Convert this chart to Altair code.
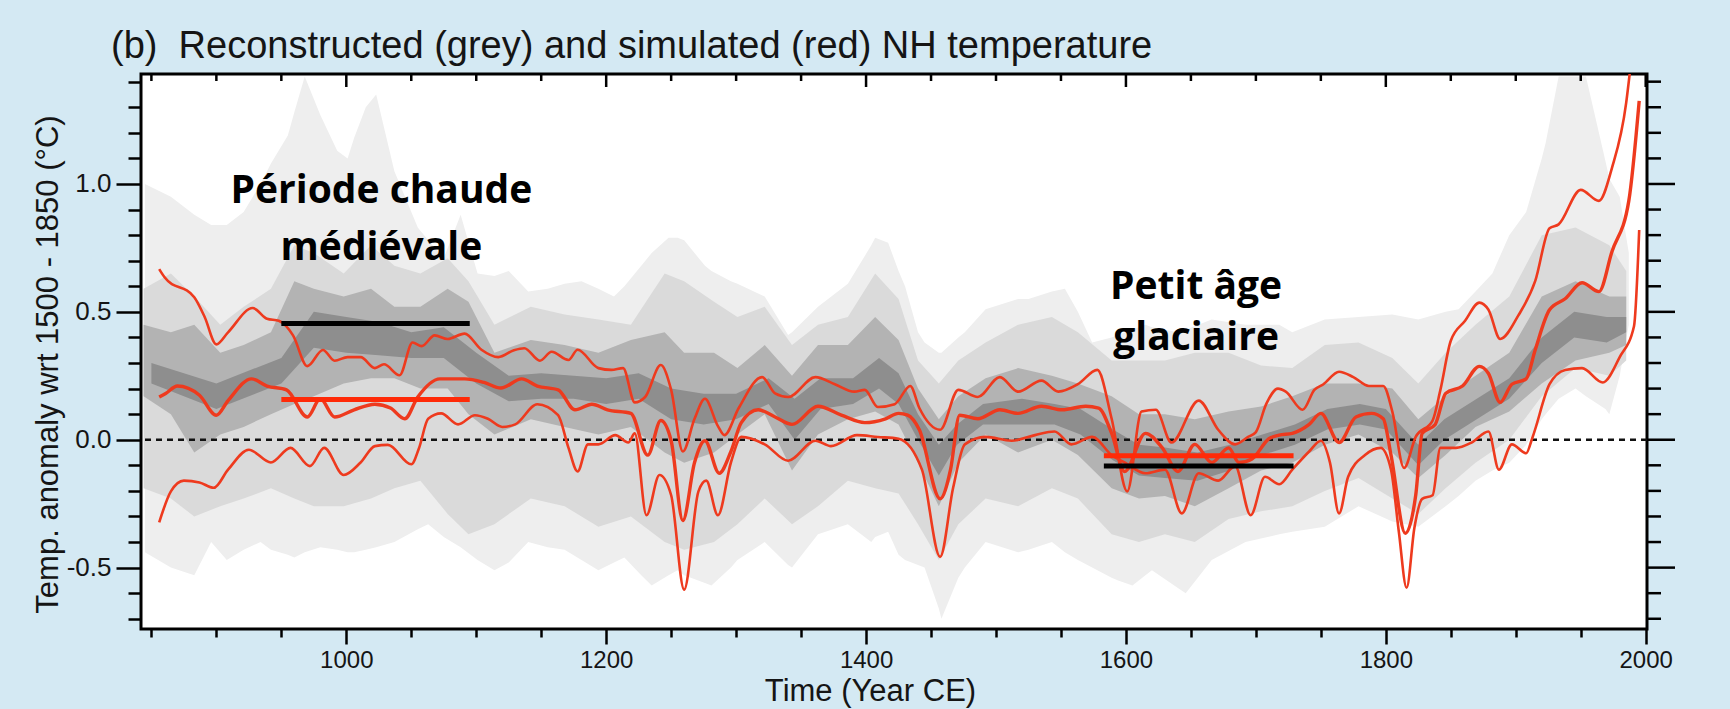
import altair as alt
import pandas as pd

# ---------------- data ----------------
# reconstruction envelope: light / mid / dark / core grey bands
outer_year = [845, 865, 883, 896, 908, 921, 934, 942, 955, 960, 968, 980, 993, 1001, 1006, 1015, 1023, 1037, 1055, 1063,
              1075, 1088, 1101, 1114, 1125, 1140, 1155, 1168, 1181, 1194, 1206, 1214, 1227, 1235, 1248, 1255, 1260, 1276,
              1281, 1296, 1301, 1322, 1340, 1343, 1363, 1386, 1404, 1407, 1417, 1425, 1430, 1440, 1445, 1456, 1458, 1471,
              1476, 1492, 1517, 1525, 1543, 1553, 1563, 1574, 1589, 1594, 1605, 1615, 1620, 1640, 1646, 1666, 1692, 1718,
              1728, 1753, 1779, 1805, 1825, 1846, 1856, 1869, 1882, 1895, 1908, 1920, 1923, 1933, 1946, 1954, 1969, 1972,
              1980, 1987]
outer_hi = [1.0, 0.95, 0.88, 0.84, 0.84, 0.89, 1.0, 1.08, 1.19, 1.28, 1.42, 1.27, 1.13, 1.10, 1.18, 1.30, 1.35, 1.05, 0.83, 0.78,
            0.71, 0.88, 0.65, 0.64, 0.66, 0.58, 0.59, 0.61, 0.62, 0.59, 0.56, 0.60, 0.68, 0.73, 0.79, 0.79, 0.78, 0.68,
            0.66, 0.62, 0.61, 0.56, 0.41, 0.42, 0.52, 0.61, 0.76, 0.79, 0.77, 0.66, 0.60, 0.42, 0.38, 0.34, 0.34, 0.40,
            0.42, 0.51, 0.55, 0.55, 0.58, 0.59, 0.50, 0.38, 0.40, 0.41, 0.43, 0.45, 0.44, 0.42, 0.43, 0.47, 0.45, 0.45,
            0.42, 0.47, 0.48, 0.49, 0.47, 0.50, 0.51, 0.58, 0.65, 0.80, 0.89, 1.10, 1.16, 1.42, 1.42, 1.42, 1.09, 1.02,
            0.95, 0.73]
outer_lo = [-0.44, -0.50, -0.53, -0.40, -0.47, -0.43, -0.40, -0.43, -0.45, -0.46, -0.44, -0.42, -0.43, -0.44, -0.44, -0.43, -0.42, -0.40, -0.35, -0.33,
            -0.38, -0.42, -0.47, -0.51, -0.48, -0.40, -0.42, -0.43, -0.47, -0.51, -0.48, -0.46, -0.53, -0.57, -0.53, -0.51, -0.53, -0.56,
            -0.57, -0.50, -0.47, -0.40, -0.49, -0.50, -0.37, -0.33, -0.40, -0.38, -0.36, -0.45, -0.47, -0.49, -0.50, -0.66, -0.70, -0.54,
            -0.50, -0.40, -0.44, -0.43, -0.40, -0.44, -0.47, -0.50, -0.54, -0.55, -0.57, -0.53, -0.51, -0.58, -0.60, -0.47, -0.40, -0.37,
            -0.36, -0.34, -0.26, -0.32, -0.34, -0.26, -0.22, -0.16, -0.12, -0.09, -0.02, 0.08, 0.10, 0.16, 0.20, 0.17, 0.12, 0.10,
            0.25, 0.45]

mid_year = [844, 865, 883, 903, 921, 942, 960, 975, 998, 1019, 1037, 1057, 1078, 1094, 1114, 1142, 1168, 1194, 1219, 1245,
            1260, 1283, 1301, 1322, 1343, 1363, 1386, 1407, 1425, 1440, 1456, 1471, 1492, 1517, 1543, 1563, 1589, 1610,
            1630, 1653, 1679, 1704, 1728, 1753, 1779, 1805, 1825, 1846, 1869, 1895, 1920, 1946, 1972, 1985]
mid_hi = [0.59, 0.65, 0.56, 0.45, 0.52, 0.59, 0.76, 0.73, 0.65, 0.76, 0.68, 0.65, 0.71, 0.62, 0.45, 0.52, 0.49, 0.47, 0.45, 0.65,
          0.62, 0.54, 0.48, 0.52, 0.37, 0.45, 0.48, 0.65, 0.55, 0.31, 0.22, 0.31, 0.38, 0.45, 0.48, 0.42, 0.31, 0.31,
          0.31, 0.34, 0.34, 0.29, 0.28, 0.37, 0.38, 0.32, 0.22, 0.34, 0.45, 0.56, 0.80, 0.83, 0.76, 0.66]
mid_lo = [-0.19, -0.23, -0.30, -0.26, -0.23, -0.19, -0.23, -0.26, -0.26, -0.23, -0.19, -0.16, -0.29, -0.37, -0.33, -0.23, -0.26, -0.34, -0.30, -0.40,
          -0.43, -0.40, -0.33, -0.23, -0.33, -0.26, -0.16, -0.19, -0.21, -0.33, -0.47, -0.33, -0.23, -0.26, -0.19, -0.23, -0.37, -0.40,
          -0.37, -0.40, -0.31, -0.28, -0.26, -0.20, -0.15, -0.23, -0.29, -0.19, -0.09, 0.0, 0.17, 0.28, 0.25, 0.31]

dark_year = mid_year
dark_hi = [0.45, 0.42, 0.45, 0.34, 0.37, 0.42, 0.62, 0.59, 0.56, 0.59, 0.52, 0.52, 0.59, 0.54, 0.34, 0.39, 0.37, 0.34, 0.39, 0.42,
           0.34, 0.34, 0.28, 0.37, 0.25, 0.37, 0.37, 0.48, 0.39, 0.20, 0.08, 0.17, 0.24, 0.28, 0.25, 0.22, 0.17, 0.10,
           0.10, 0.08, 0.11, 0.13, 0.17, 0.22, 0.22, 0.20, 0.08, 0.17, 0.25, 0.34, 0.56, 0.62, 0.56, 0.56]
dark_lo = [0.17, 0.10, -0.05, 0.02, 0.05, 0.10, 0.14, 0.17, 0.22, 0.24, 0.24, 0.20, 0.20, 0.10, 0.02, 0.08, 0.05, 0.02, 0.05, -0.05,
           -0.09, -0.05, 0.02, 0.10, -0.12, 0.02, 0.08, 0.11, 0.06, -0.09, -0.26, -0.09, 0.02, -0.05, 0.0, -0.06, -0.19, -0.23,
           -0.22, -0.26, -0.19, -0.12, -0.09, -0.02, 0.02, -0.05, -0.15, -0.06, 0.05, 0.11, 0.22, 0.31, 0.34, 0.37]

core_year = [850, 900, 950, 975, 1000, 1025, 1050, 1075, 1100, 1125, 1150, 1175, 1200, 1225, 1250, 1275, 1300, 1325,
             1345, 1365, 1390, 1410, 1425, 1440, 1456, 1470, 1490, 1520, 1545, 1565, 1590, 1610, 1630, 1655, 1680,
             1705, 1730, 1755, 1780, 1800, 1825, 1845, 1870, 1895, 1920, 1945, 1970, 1985]
core_hi = [0.30, 0.22, 0.32, 0.50, 0.48, 0.46, 0.42, 0.44, 0.34, 0.25, 0.26, 0.25, 0.24, 0.26, 0.20, 0.18, 0.18, 0.24,
           0.16, 0.24, 0.24, 0.32, 0.26, 0.10, -0.02, 0.06, 0.14, 0.16, 0.14, 0.12, 0.04, -0.02, -0.03, -0.05, -0.02,
           0.02, 0.06, 0.12, 0.14, 0.12, -0.02, 0.08, 0.16, 0.24, 0.40, 0.50, 0.48, 0.48]
core_lo = [0.22, 0.12, 0.22, 0.36, 0.34, 0.33, 0.32, 0.32, 0.22, 0.15, 0.16, 0.16, 0.14, 0.16, 0.08, 0.06, 0.08, 0.14,
           0.0, 0.12, 0.14, 0.20, 0.14, 0.0, -0.14, -0.02, 0.06, 0.06, 0.06, 0.02, -0.08, -0.14, -0.15, -0.16, -0.12,
           -0.06, -0.02, 0.04, 0.06, 0.04, -0.10, 0.0, 0.08, 0.16, 0.30, 0.40, 0.38, 0.42]

# simulations: upper, mean and lower red curves
up_year = [856, 860, 883, 891, 900, 909, 928, 939, 948, 959, 970, 982, 991, 1001, 1011, 1022, 1029, 1041, 1051, 1058,
           1068, 1078, 1091, 1104, 1117, 1129, 1137, 1149, 1158, 1171, 1178, 1194, 1204, 1213, 1222, 1230, 1242, 1250,
           1259, 1268, 1276, 1286, 1291, 1302, 1320, 1330, 1340, 1361, 1376, 1391, 1399, 1409, 1422, 1434, 1441, 1457,
           1471, 1486, 1503, 1517, 1535, 1548, 1563, 1578, 1589, 1601, 1612, 1623, 1635, 1656, 1671, 1684, 1694, 1700,
           1708, 1717, 1723, 1736, 1745, 1752, 1764, 1775, 1787, 1798, 1805, 1814, 1823, 1836, 1842, 1850, 1861, 1872,
           1879, 1888, 1902, 1915, 1926, 1933, 1950, 1964, 1974, 1985, 1988]
up_val = [0.667, 0.636, 0.557, 0.48, 0.373, 0.42, 0.515, 0.473, 0.465, 0.408, 0.288, 0.351, 0.309, 0.323, 0.323, 0.28, 0.295, 0.252, 0.38, 0.366,
          0.408, 0.394, 0.415, 0.352, 0.323, 0.35, 0.358, 0.309, 0.344, 0.312, 0.352, 0.28, 0.273, 0.28, 0.146, 0.167, 0.292, 0.195,
          -0.046, 0.082, 0.16, 0.053, 0.018, 0.124, 0.245, 0.181, 0.167, 0.245, 0.217, 0.188, 0.195, 0.128, 0.139, 0.21, 0.124, 0.039,
          0.195, 0.167, 0.245, 0.188, 0.231, 0.188, 0.217, 0.273, 0.082, -0.202, 0.11, 0.117, -0.011, 0.153, 0.039, -0.018, 0.011, 0.03,
          0.14, 0.2, 0.188, 0.117, 0.195, 0.217, 0.266, 0.245, 0.21, 0.21, 0.11, -0.11, 0.011, 0.075, 0.195, 0.387, 0.465, 0.536,
          0.508, 0.394, 0.486, 0.621, 0.827, 0.842, 0.977, 0.934, 1.062, 1.318, 1.445]

mean_year = [856, 861, 870, 887, 900, 909, 927, 939, 954, 970, 980, 991, 1006, 1022, 1034, 1045, 1055, 1072, 1091, 1106,
             1119, 1135, 1147, 1163, 1176, 1189, 1201, 1219, 1232, 1242, 1250, 1259, 1268, 1276, 1287, 1296, 1304, 1317,
             1330, 1343, 1363, 1381, 1399, 1415, 1425, 1432, 1441, 1457, 1465, 1472, 1486, 1503, 1517, 1535, 1551, 1569,
             1579, 1589, 1599, 1615, 1628, 1640, 1653, 1666, 1679, 1687, 1697, 1710, 1718, 1728, 1741, 1750, 1764, 1777,
             1789, 1798, 1804, 1815, 1823, 1828, 1838, 1846, 1859, 1872, 1879, 1888, 1897, 1908, 1915, 1926, 1938, 1951,
             1964, 1974, 1987, 1995]
mean_val = [0.167, 0.181, 0.21, 0.174, 0.096, 0.153, 0.238, 0.21, 0.195, 0.089, 0.16, 0.089, 0.117, 0.139, 0.124, 0.082, 0.167, 0.238, 0.238, 0.224,
            0.202, 0.238, 0.21, 0.195, 0.117, 0.139, 0.117, 0.103, -0.06, 0.075, -0.004, -0.316, -0.089, -0.004, -0.131, -0.046, 0.067, 0.117,
            0.089, 0.06, 0.131, 0.096, 0.067, 0.082, 0.103, 0.096, 0.039, -0.231, -0.117, 0.096, 0.082, 0.117, 0.103, 0.131, 0.117, 0.131,
            0.124, 0.025, -0.124, 0.025, -0.032, -0.124, -0.018, -0.089, -0.032, -0.089, -0.075, 0.004, 0.018, 0.025, 0.06, 0.103, -0.011, 0.089,
            0.103, 0.082, -0.06, -0.366, -0.217, 0.025, 0.06, 0.181, 0.21, 0.287, 0.259, 0.146, 0.217, 0.238, 0.352, 0.508, 0.551, 0.614,
            0.579, 0.735, 0.934, 1.325]

low_year = [856, 865, 875, 887, 898, 909, 925, 942, 957, 972, 983, 998, 1011, 1022, 1032, 1050, 1056, 1063, 1073, 1086,
            1099, 1109, 1120, 1130, 1147, 1163, 1171, 1178, 1186, 1194, 1207, 1217, 1222, 1231, 1241, 1250, 1260, 1271,
            1277, 1286, 1296, 1304, 1322, 1340, 1361, 1373, 1393, 1409, 1425, 1443, 1457, 1467, 1476, 1492, 1512, 1530,
            1545, 1558, 1574, 1589, 1599, 1615, 1630, 1643, 1656, 1671, 1684, 1696, 1707, 1718, 1728, 1741, 1750, 1757,
            1764, 1771, 1784, 1796, 1804, 1810, 1816, 1822, 1828, 1836, 1842, 1854, 1866, 1879, 1887, 1897, 1908, 1913,
            1926, 1938, 1951, 1967, 1980, 1991, 1995]
low_val = [-0.323, -0.202, -0.16, -0.167, -0.188, -0.117, -0.039, -0.089, -0.032, -0.103, -0.032, -0.138, -0.089, -0.025, -0.02, -0.096, -0.032, 0.082, 0.103, 0.06,
           0.096, 0.082, 0.05, 0.06, 0.139, 0.096, -0.032, -0.124, -0.018, -0.018, 0.018, -0.011, 0.025, -0.295, -0.138, -0.217, -0.586, -0.202,
           -0.16, -0.295, -0.089, 0.011, -0.018, -0.082, -0.004, -0.025, 0.018, 0.011, 0.004, -0.117, -0.458, -0.188, -0.018, 0.011, -0.004, 0.018,
           0.032, -0.018, 0.011, -0.06, -0.089, -0.131, -0.117, -0.288, -0.131, -0.16, -0.103, -0.295, -0.145, -0.174, -0.117, -0.046, -0.004, -0.089,
           -0.288, -0.145, -0.06, -0.032, -0.117, -0.359, -0.579, -0.344, -0.231, -0.217, -0.032, -0.032, -0.011, 0.032, -0.117, -0.018, -0.053, 0.011,
           0.217, 0.273, 0.28, 0.224, 0.323, 0.444, 0.82]

# axis ticks / labels
x_ticks = list(range(850, 2001, 50))
y_ticks = [-0.7, -0.6, -0.5, -0.4, -0.3, -0.2, -0.1, 0.0, 0.1, 0.2, 0.3, 0.4, 0.5, 0.6, 0.7, 0.8, 0.9, 1.0, 1.1, 1.2, 1.3, 1.4]
x_major = [1000, 1200, 1400, 1600, 1800, 2000]
y_major = [-0.5, 0.0, 0.5, 1.0]

# period means (annotation bars)
seg_x1 = [950, 950, 1583, 1583]
seg_x2 = [1095, 1095, 1729, 1729]
seg_y = [0.454, 0.157, -0.063, -0.103]
seg_kind = ["recon", "sim", "sim", "recon"]

# annotation labels
ann_text = ["Période chaude", "médiévale", "Petit âge", "glaciaire"]
ann_x = [1027, 1027, 1654, 1654]
ann_y = [0.925, 0.703, 0.55, 0.351]

# ---------------- chart ----------------
W, H = 1506, 555
xscale = alt.Scale(domain=[842, 2001], nice=False, zero=False)
yscale = alt.Scale(domain=[-0.74, 1.43], nice=False, zero=False)

xaxis = alt.Axis(values=x_ticks, format="d", title="Time (Year CE)",
                 labelExpr="datum.value % 200 == 0 ? datum.label : ''",
                 tickSize={"condition": {"test": "datum.value % 200 == 0", "value": 15}, "value": 8},
                 labelPadding=4, labelFontSize=24, grid=False, domain=False,
                 titleX=729, titleY=62, titleBaseline="middle", titleAnchor="middle")
MAJ = "abs(datum.value*2 - round(datum.value*2)) < 0.001"
yaxis = alt.Axis(values=y_ticks, format=".1f", title="Temp. anomaly wrt 1500 - 1850 (°C)",
                 labelExpr=MAJ + " ? replace(datum.label, '\u2212', '-') : ''",
                 tickSize={"condition": {"test": MAJ, "value": 25}, "value": 13},
                 labelPadding=5, labelFontSize=26, grid=False, domain=False,
                 titleX=-93, titleY=290, titleAngle=270, titleBaseline="middle", titleFontSize=31)


def X(f="year"):
    return alt.X(f + ":Q", scale=xscale, axis=xaxis)


def Y(f="v"):
    return alt.Y(f + ":Q", scale=yscale, axis=yaxis)


def band(years, hi, lo, color):
    df = pd.DataFrame({"year": years, "hi": hi, "lo": lo})
    return alt.Chart(df).mark_area(color=color, opacity=1, clip=True, interpolate="linear").encode(
        x=X(), y=Y("hi"), y2="lo:Q")


outer = band(outer_year, outer_hi, outer_lo, "#eeeeee")
mid = band(mid_year, mid_hi, mid_lo, "#dadada")
dark = band(dark_year, dark_hi, dark_lo, "#b3b3b3")
core = band(core_year, core_hi, core_lo, "#8e8e8e")

zero = alt.Chart(pd.DataFrame({"v": [0.0]})).mark_rule(
    color="#111", strokeDash=[6, 5], strokeWidth=2.5).encode(y=Y())


def red(years, vals, w):
    df = pd.DataFrame({"year": years, "v": vals})
    return alt.Chart(df).mark_line(color="#ee3a1e", strokeWidth=w, interpolate="monotone", clip=True).encode(
        x=X(), y=Y())


r_up = red(up_year, up_val, 2.6)
r_mean = red(mean_year, mean_val, 3.4)
r_low = red(low_year, low_val, 2.6)

seg_df = pd.DataFrame({"x1": seg_x1, "x2": seg_x2, "v": seg_y, "kind": seg_kind})
segs = alt.Chart(seg_df).mark_rule(strokeWidth=5).encode(
    x=X("x1"), x2="x2:Q", y=Y(),
    color=alt.Color("kind:N", scale=alt.Scale(domain=["recon", "sim"], range=["#000000", "#ff2a08"]), legend=None))

ann_df = pd.DataFrame({"t": ann_text, "year": ann_x, "v": ann_y})
ann = alt.Chart(ann_df).mark_text(font="Open Sans", fontWeight="bold", fontSize=39, align="center",
                                  baseline="alphabetic", color="#000").encode(x=X(), y=Y(), text="t:N")

# top (inward) and right (outward) tick marks of the frame
xt_df = pd.DataFrame({"year": x_ticks, "major": [t in x_major for t in x_ticks]})
top_major = alt.Chart(xt_df).transform_filter("datum.major").mark_rule(color="#000", strokeWidth=2.5).encode(
    x=X(), y=alt.value(0), y2=alt.value(13))
top_minor = alt.Chart(xt_df).transform_filter("!datum.major").mark_rule(color="#000", strokeWidth=2.5).encode(
    x=X(), y=alt.value(0), y2=alt.value(7))
yt_df = pd.DataFrame({"v": y_ticks, "major": [t in y_major for t in y_ticks]})
right_major = alt.Chart(yt_df).transform_filter("datum.major").mark_rule(color="#000", strokeWidth=2.5).encode(
    y=Y(), x=alt.value(W), x2=alt.value(W + 28))
right_minor = alt.Chart(yt_df).transform_filter("!datum.major").mark_rule(color="#000", strokeWidth=2.5).encode(
    y=Y(), x=alt.value(W), x2=alt.value(W + 14))

chart = alt.layer(
    outer, mid, dark, core, zero, r_up, r_mean, r_low, segs, ann, top_major, top_minor, right_major, right_minor
).properties(
    width=W, height=H,
    padding={"left": 141, "top": 74, "right": 83, "bottom": 80},
    autosize=alt.AutoSizeParams(type="none"),
    background="#d4e9f3",
    title=alt.TitleParams(text="(b)\u00a0 Reconstructed (grey) and simulated (red) NH temperature",
                          anchor="start", frame="group", dx=-30, dy=40, offset=17,
                          font="Liberation Sans", fontSize=38, fontWeight="normal", color="#151515",
                          baseline="alphabetic"),
).configure_view(
    stroke="#000", strokeWidth=3, fill="white"
).configure_axis(
    labelFont="Liberation Sans", labelColor="#151515",
    titleFont="Liberation Sans", titleFontSize=31, titleFontWeight="normal", titleColor="#151515",
    tickColor="#000", tickWidth=2.5,
)

chart.save("out.html", embed_options={"renderer": "svg", "actions": False})
